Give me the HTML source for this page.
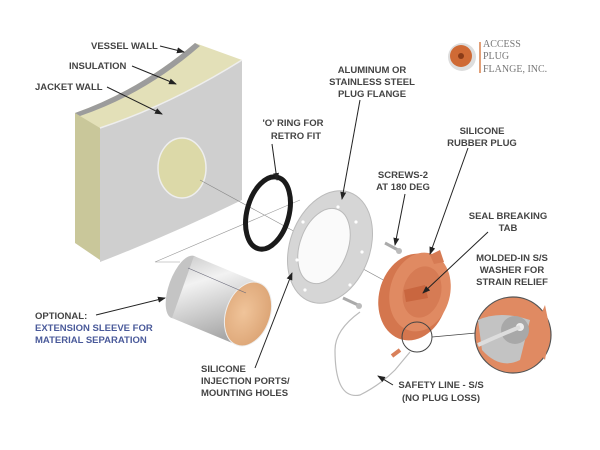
<!DOCTYPE html>
<html><head><meta charset="utf-8"><style>
html,body{margin:0;padding:0;background:#fff;width:600px;height:450px;overflow:hidden}
svg text{font-family:"Liberation Sans",sans-serif;font-size:9.5px;fill:#444;font-weight:bold}
</style></head><body>
<svg width="600" height="450" viewBox="0 0 600 450" xmlns="http://www.w3.org/2000/svg">
<defs>
<marker id="a" markerWidth="8" markerHeight="8" refX="7" refY="4" orient="auto" markerUnits="userSpaceOnUse"><path d="M0,1 L8,4 L0,7 Z" fill="#222"/></marker>
<linearGradient id="cyl" x1="0" y1="0" x2="0.3" y2="1"><stop offset="0" stop-color="#c8c8c8"/><stop offset="0.35" stop-color="#f2f2f2"/><stop offset="1" stop-color="#a8a8a8"/></linearGradient>
<radialGradient id="cu" cx="0.4" cy="0.5" r="0.7"><stop offset="0" stop-color="#f0c49a"/><stop offset="1" stop-color="#d9a070"/></radialGradient>
</defs>
<!-- wall -->
<path d="M75,113 L100,124 L100,260 L75,243 Z" fill="#c9c79a"/>
<path d="M100,128 Q170,105 242,60 L242,200 Q170,235 100,262 Z" fill="#cfcfcf"/>
<path d="M75,113 Q140,90 195,43 L242,60 Q170,105 100,128 Z" fill="#e3e0b8"/>
<path d="M75,113 Q140,90 195,43 L200,46 Q145,94 80,116 Z" fill="#9c9c9c"/>
<path d="M100,128 Q170,105 242,60" fill="none" stroke="#eee" stroke-width="1.5"/>
<ellipse cx="182" cy="168" rx="24" ry="30" fill="#dcd9a8" stroke="#eee" stroke-width="1.5"/>
<!-- guide lines -->
<path d="M200,180 L420,300" stroke="#888" stroke-width="0.6"/>
<path d="M180,262 L155,262 L300,200" stroke="#999" stroke-width="0.6" fill="none"/>
<!-- o ring -->
<ellipse cx="268" cy="213" rx="21" ry="37" transform="rotate(15 268 213)" fill="none" stroke="#1a1a1a" stroke-width="5"/>
<!-- flange -->
<ellipse cx="330" cy="247" rx="40" ry="58" transform="rotate(20 330 247)" fill="#d6d6d6" stroke="#bbb"/>
<ellipse cx="324" cy="246" rx="24" ry="39" transform="rotate(20 324 246)" fill="#fafafa" stroke="#bbb"/>
<g fill="#fff"><circle cx="338" cy="207" r="1.6"/><circle cx="356" cy="222" r="1.6"/><circle cx="362" cy="252" r="1.6"/><circle cx="350" cy="285" r="1.6"/><circle cx="305" cy="290" r="1.6"/><circle cx="297" cy="260" r="1.6"/><circle cx="303" cy="222" r="1.6"/></g>
<!-- screws -->
<path d="M385,243 L398,250" stroke="#aaa" stroke-width="3"/><circle cx="399" cy="251" r="3" fill="#bbb"/>
<path d="M343,298 L358,305" stroke="#aaa" stroke-width="3"/><circle cx="359" cy="306" r="3" fill="#bbb"/>
<!-- sleeve -->
<ellipse cx="183" cy="287" rx="14" ry="33" transform="rotate(20 183 287)" fill="#c4c4c4"/>
<path d="M194,256 L259,283 L237,345 L172,318 Z" fill="url(#cyl)"/>
<ellipse cx="248" cy="314" rx="22" ry="33" transform="rotate(20 248 314)" fill="url(#cu)" stroke="#eee"/>
<path d="M188,268 L246,293" stroke="#667" stroke-width="0.6"/>
<!-- safety line -->
<path d="M360,312 Q335,330 335,350 Q335,400 360,395 Q380,385 395,370 L410,352" fill="none" stroke="#bbb" stroke-width="1.2"/>
<path d="M392,356 L400,350" stroke="#d9805a" stroke-width="4"/>
<!-- plug -->
<ellipse cx="413" cy="297" rx="34" ry="44" transform="rotate(15 413 297)" fill="#d4764e"/>
<ellipse cx="420" cy="292" rx="30" ry="40" transform="rotate(15 420 292)" fill="#e08a62"/>
<ellipse cx="422" cy="292" rx="19" ry="26" transform="rotate(15 422 292)" fill="#d67b54"/>
<path d="M404,290 L425,285 L428,298 L406,302 Z" fill="#c9663f"/>
<path d="M430,255 L440,250 L444,262 L434,264 Z" fill="#d67b54"/>
<!-- detail circles -->
<circle cx="417" cy="337" r="15" fill="none" stroke="#444" stroke-width="1"/>
<path d="M432,337 L476,333" stroke="#444" stroke-width="0.8"/>
<circle cx="513" cy="335" r="38" fill="#e08a62" stroke="#555" stroke-width="1.2"/>
<path d="M478,320 Q500,310 530,320 L520,360 Q500,370 482,350 Z" fill="#c3c3c3"/>
<circle cx="515" cy="330" r="14" fill="#a8a8a8"/><circle cx="520" cy="327" r="4" fill="#eee"/>
<path d="M478,345 Q500,335 520,327" stroke="#ddd" stroke-width="4" fill="none"/>
<path d="M545,305 L530,340 L545,360 L550,330 Z" fill="#e08a62"/>
<!-- logo -->
<circle cx="462" cy="57" r="14" fill="#ddd"/>
<circle cx="461" cy="56" r="11" fill="#cf6a35"/>
<circle cx="461" cy="56" r="3" fill="#8a3b18"/>
<path d="M480,42 L480,73" stroke="#d9804a" stroke-width="1.5"/>
<text x="483" y="47" style="font-family:'Liberation Serif',serif;font-weight:normal;font-size:10px;fill:#777">ACCESS</text>
<text x="483" y="59" style="font-family:'Liberation Serif',serif;font-weight:normal;font-size:10px;fill:#777">PLUG</text>
<text x="483" y="72" style="font-family:'Liberation Serif',serif;font-weight:normal;font-size:10px;fill:#777">FLANGE, INC.</text>
<!-- arrows -->
<g stroke="#222" stroke-width="1" fill="none" marker-end="url(#a)">
<path d="M160,46 L184,52"/>
<path d="M132,66 L176,84"/>
<path d="M107,87 L162,114"/>
<path d="M272,144 L277,180"/>
<path d="M360,100 L342,199"/>
<path d="M405,194 L395,245"/>
<path d="M468,148 L430,254"/>
<path d="M488,232 L423,293"/>
<path d="M96,315 L165,298"/>
<path d="M255,368 L292,273"/>
<path d="M393,385 L378,376"/>
</g>
<!-- labels -->
<text x="91" y="49">VESSEL WALL</text>
<text x="69" y="69">INSULATION</text>
<text x="35" y="90">JACKET WALL</text>
<text x="293" y="126" text-anchor="middle">'O' RING FOR</text>
<text x="296" y="139" text-anchor="middle">RETRO FIT</text>
<text x="372" y="73" text-anchor="middle">ALUMINUM OR</text>
<text x="372" y="85" text-anchor="middle">STAINLESS STEEL</text>
<text x="372" y="97" text-anchor="middle">PLUG FLANGE</text>
<text x="482" y="134" text-anchor="middle">SILICONE</text>
<text x="482" y="146" text-anchor="middle">RUBBER PLUG</text>
<text x="403" y="178" text-anchor="middle">SCREWS-2</text>
<text x="403" y="190" text-anchor="middle">AT 180 DEG</text>
<text x="508" y="219" text-anchor="middle">SEAL BREAKING</text>
<text x="508" y="231" text-anchor="middle">TAB</text>
<text x="512" y="261" text-anchor="middle">MOLDED-IN S/S</text>
<text x="512" y="273" text-anchor="middle">WASHER FOR</text>
<text x="512" y="285" text-anchor="middle">STRAIN RELIEF</text>
<text x="441" y="388" text-anchor="middle">SAFETY LINE - S/S</text>
<text x="441" y="401" text-anchor="middle">(NO PLUG LOSS)</text>
<text x="201" y="372">SILICONE</text>
<text x="201" y="384">INJECTION PORTS/</text>
<text x="201" y="396">MOUNTING HOLES</text>
<text x="35" y="319">OPTIONAL:</text>
<text x="35" y="331" style="fill:#4a5a9a">EXTENSION SLEEVE FOR</text>
<text x="35" y="343" style="fill:#4a5a9a">MATERIAL SEPARATION</text>
</svg>
</body></html>
